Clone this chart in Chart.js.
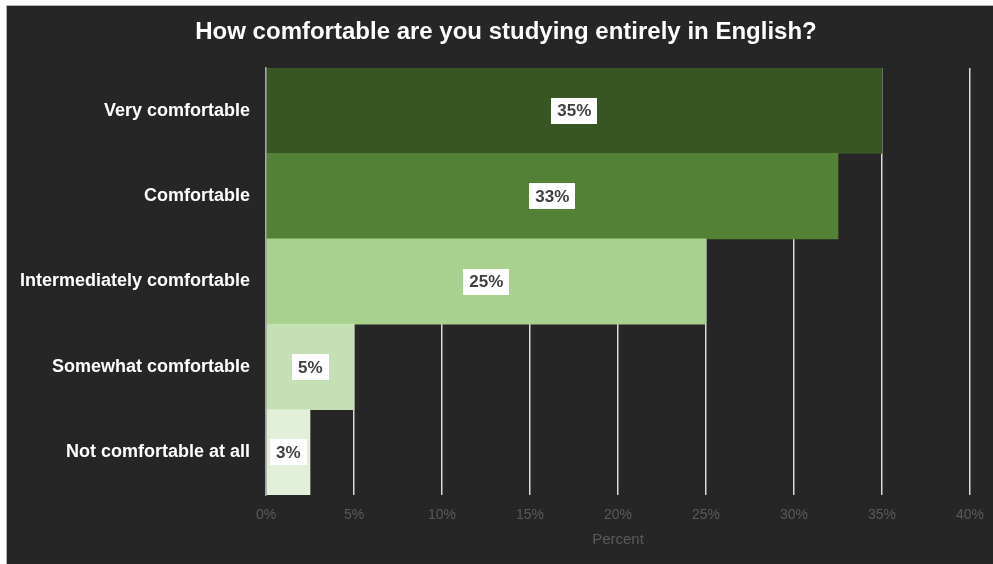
<!DOCTYPE html>
<html>
<head>
<meta charset="utf-8">
<script src="https://cdn.jsdelivr.net/npm/chart.js@4/dist/chart.umd.min.js"></script>
<style>
  html, body { margin: 0; padding: 0; background: #ffffff; }
  #frame { position: absolute; left: 6px; top: 5px; width: 987px; height: 559px;
           border-left: 1px solid #b4b4b4; border-top: 1px solid #b4b4b4; background: #262626; }
  #wrap { position: absolute; left: 0; top: 0; width: 986px; height: 558px; }
</style>
</head>
<body>
<div id="frame"><div id="wrap"><canvas id="c" width="986" height="558"></canvas></div></div>
<script>
const chartTitle = 'How comfortable are you studying entirely in English?';
const categories = ['Very comfortable', 'Comfortable', 'Intermediately comfortable', 'Somewhat comfortable', 'Not comfortable at all'];
const percentValues = [35, 32.5, 25, 5, 2.5];
const barColors = ['#375623', '#538135', '#a9d18e', '#c5e0b4', '#e2f0d9'];
const axisTitle = 'Percent';

const FONT = '"Liberation Sans", Arial, sans-serif';

const labelPlugin = {
  id: 'boxLabels',
  afterLayout(chart) {
    // shift the title's centring box so it matches the reference position
    if (chart.titleBlock) { chart.titleBlock.left += 30; }
  },
  afterDatasetsDraw(chart) {
    const ctx = chart.ctx;
    const meta = chart.getDatasetMeta(0);
    ctx.save();
    ctx.font = 'bold 17px ' + FONT;
    ctx.textAlign = 'center';
    ctx.textBaseline = 'middle';
    meta.data.forEach((bar, i) => {
      const v = chart.data.datasets[0].data[i];
      const txt = Math.round(v) + '%';
      const cx = (bar.x + bar.base) / 2;
      const cy = bar.y;
      const w = ctx.measureText(txt).width + 12;
      const h = 26;
      ctx.fillStyle = '#ffffff';
      ctx.fillRect(Math.round(cx - w / 2), Math.round(cy - h / 2), Math.round(w), h);
      ctx.fillStyle = '#404040';
      ctx.fillText(txt, cx, cy + 1);
    });
    ctx.restore();
  }
};

new Chart(document.getElementById('c'), {
  type: 'bar',
  data: {
    labels: categories,
    datasets: [{
      data: percentValues,
      backgroundColor: barColors,
      borderWidth: 0,
      barPercentage: 1,
      categoryPercentage: 1
    }]
  },
  options: {
    indexAxis: 'y',
    responsive: false,
    animation: false,
    devicePixelRatio: 1,
    layout: { padding: { left: 5, right: 23, top: 0, bottom: 0 } },
    plugins: {
      legend: { display: false },
      tooltip: { enabled: false },
      title: {
        display: true,
        text: chartTitle,
        color: '#ffffff',
        font: { family: FONT, size: 24, weight: 'bold', lineHeight: 1.25 },
        padding: { top: 11, bottom: 21 }
      }
    },
    scales: {
      x: {
        min: 0, max: 40,
        afterFit(scale) { scale.height = 69; scale.paddingLeft = 0; scale.paddingRight = 0; },
        ticks: {
          stepSize: 5,
          color: '#5a5a5a',
          font: { family: FONT, size: 14 },
          padding: 12,
          callback: v => v + '%'
        },
        grid: { color: '#d9d9d9', lineWidth: 1.5, drawTicks: false },
        border: { display: false },
        title: {
          display: true,
          text: axisTitle,
          color: '#5a5a5a',
          font: { family: FONT, size: 15 },
          padding: { top: 0, bottom: 15 }
        }
      },
      y: {
        afterFit(scale) { scale.width = 254; },
        ticks: {
          color: '#ffffff',
          font: { family: FONT, size: 18, weight: 'bold' },
          padding: 16
        },
        grid: { display: false, drawTicks: false, z: 1 },
        border: { display: true, color: '#a6a6a6', width: 1.5, z: 1 }
      }
    }
  },
  plugins: [labelPlugin]
});
</script>
</body>
</html>
